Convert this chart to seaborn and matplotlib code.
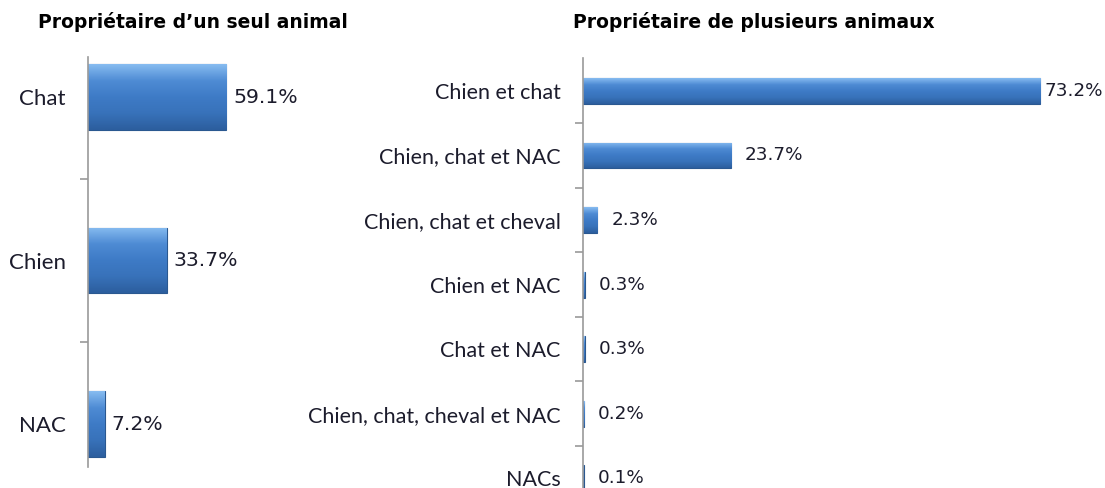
import numpy as np
import matplotlib
matplotlib.use("Agg")
import matplotlib.pyplot as plt
import seaborn as sns
from matplotlib.colors import LinearSegmentedColormap

# ---- data ----
single_cats = ["Chat", "Chien", "NAC"]
single_vals = [59.1, 33.7, 7.2]
multi_cats = ["Chien et chat", "Chien, chat et NAC", "Chien, chat et cheval",
              "Chien et NAC", "Chat et NAC", "Chien, chat, cheval et NAC", "NACs"]
multi_vals = [73.2, 23.7, 2.3, 0.3, 0.3, 0.2, 0.1]
title_single = "Propriétaire d\u2019un seul animal"
title_multi = "Propriétaire de plusieurs animaux"

sns.set_theme(style="white")
plt.rcParams['font.family'] = ['Lato', 'DejaVu Sans']

fig = plt.figure(figsize=(11.05, 4.88), dpi=100)
W, H = 1105, 488

BAR = "#3B78C3"
EDGE = "#2A5890"
TXT = "#1c1c2c"
AX = "#9a9a9a"
grad = LinearSegmentedColormap.from_list("g", ["#86BBF0", "#4E8BD4", "#3E7BC6", "#3872BA", "#2C5E9E"])


def shade(ax):
    for p in ax.patches:
        bb = p.get_bbox()
        g = np.linspace(0, 1, 64).reshape(-1, 1)
        im = ax.imshow(g, cmap=grad, aspect='auto', origin='upper',
                       extent=[bb.x0, bb.x1, bb.y1, bb.y0], zorder=p.get_zorder() + 0.1)
        im.set_clip_path(p)
        p.set_edgecolor(EDGE)
        p.set_linewidth(0.8)


def style(ax, cats, vals, ylim, xlim, tick_fs, lab_fs, pad, first_pad=None):
    sns.barplot(x=vals, y=cats, orient="h", ax=ax, color=BAR, width=0.4,
                saturation=1)
    shade(ax)
    labels = [f"{v:.1f}%" for v in vals]
    c = ax.containers[0]
    if first_pad is None:
        ax.bar_label(c, labels=labels, padding=pad, fontsize=lab_fs, color=TXT,
                     family="DejaVu Sans")
    else:
        ax.bar_label(c, labels=[""] + labels[1:], padding=pad, fontsize=lab_fs,
                     color=TXT, family="DejaVu Sans")
        ax.bar_label(c, labels=[labels[0]] + [""] * (len(labels) - 1),
                     padding=first_pad, fontsize=lab_fs, color=TXT,
                     family="DejaVu Sans")
    ax.set_xlabel("")
    ax.set_ylabel("")
    ax.set_xticks([])
    for s in ["top", "right", "bottom"]:
        ax.spines[s].set_visible(False)
    ax.spines["left"].set_color(AX)
    ax.spines["left"].set_linewidth(1.2)
    ax.set_yticks(np.arange(len(cats) - 1) + 0.5, minor=True)
    ax.tick_params(axis="y", which="major", left=False, length=0, pad=16,
                   labelsize=tick_fs, labelcolor=TXT)
    ax.tick_params(axis="y", which="minor", left=True, length=6, color=AX,
                   width=1.2, direction="out")
    ax.set_xlim(*xlim)
    ax.set_ylim(*ylim)
    ax.patch.set_alpha(0)


# left panel
axL = fig.add_axes([88 / W, (H - 467) / H, 234 / W, 410 / H])
style(axL, single_cats, single_vals, (2.263, -0.245), (0, 100), 16, 14.7, 5)

# right panel
axR = fig.add_axes([583 / W, 0, 496 / W, 430 / H])
style(axR, multi_cats, multi_vals, (6.15, -0.51), (0, 79.4), 15.5, 13.2, 10,
      first_pad=3)

fig.text(38 / W, 1 - 22 / H, title_single, fontsize=13.5, fontweight="bold",
         family="DejaVu Sans", va="center", ha="left", color="black")
fig.text(573 / W, 1 - 22 / H, title_multi, fontsize=13.5, fontweight="bold",
         family="DejaVu Sans", va="center", ha="left", color="black")

fig.savefig("out.png", dpi=100, facecolor="white")
